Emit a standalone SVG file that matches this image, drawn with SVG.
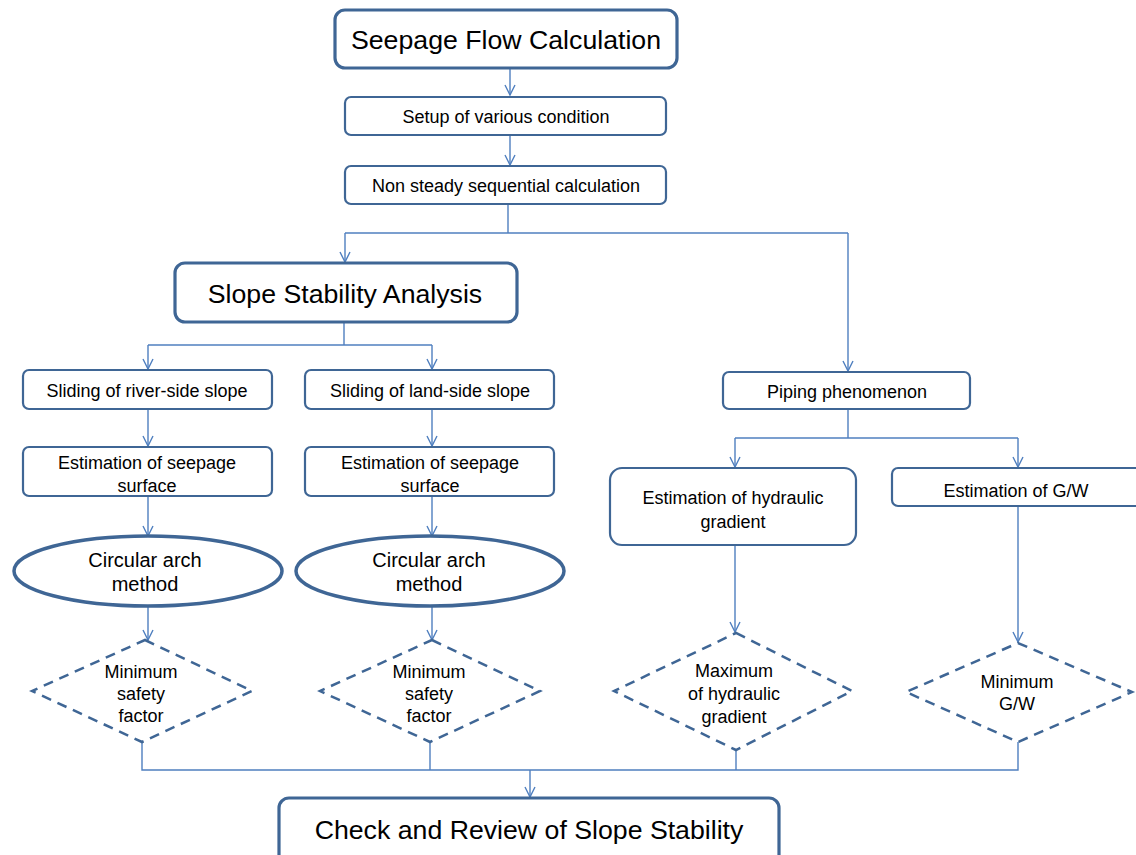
<svg xmlns="http://www.w3.org/2000/svg" width="1136" height="855" viewBox="0 0 1136 855">
<defs>
<style>
.box{fill:#fff;stroke:#3f6695;stroke-width:2.2}
.big{fill:#fff;stroke:#3f6695;stroke-width:3.2}
.ell{fill:#fff;stroke:#3f6695;stroke-width:3.5}
.dia{fill:none;stroke:#3f6695;stroke-width:2.5;stroke-dasharray:10 7}
.con{fill:none;stroke:#4f7fbf;stroke-width:1.4}
text{font-family:"Liberation Sans",Arial,sans-serif;fill:#000;text-anchor:middle}
.t1{font-size:26.7px}
.t2{font-size:18px}
.t3{font-size:20px}
</style>
<marker id="arr" viewBox="0 0 12 12" refX="11" refY="6" markerWidth="12" markerHeight="12" markerUnits="userSpaceOnUse" orient="auto">
<path d="M1,1 L11,6 L1,11" fill="none" stroke="#4f7fbf" stroke-width="1.4"/>
</marker>
</defs>
<rect width="1136" height="855" fill="#fff"/>
<g id="connectors" class="con">
<path d="M510,68 V95" marker-end="url(#arr)"/>
<path d="M510,135 V165" marker-end="url(#arr)"/>
<path d="M508,204 V233"/>
<path d="M345,233 H848"/>
<path d="M345,233 V262" marker-end="url(#arr)"/>
<path d="M848,233 V371" marker-end="url(#arr)"/>
<path d="M344,322 V345"/>
<path d="M148,345 H432"/>
<path d="M148,345 V369" marker-end="url(#arr)"/>
<path d="M432,345 V369" marker-end="url(#arr)"/>
<path d="M148,409 V446" marker-end="url(#arr)"/>
<path d="M432,409 V446" marker-end="url(#arr)"/>
<path d="M148,496 V536" marker-end="url(#arr)"/>
<path d="M432,496 V536" marker-end="url(#arr)"/>
<path d="M148,606 V640" marker-end="url(#arr)"/>
<path d="M432,606 V640" marker-end="url(#arr)"/>
<path d="M848,409 V438"/>
<path d="M735,438 H1018"/>
<path d="M735,438 V467" marker-end="url(#arr)"/>
<path d="M1018,438 V467" marker-end="url(#arr)"/>
<path d="M735,545 V632" marker-end="url(#arr)"/>
<path d="M1018,506 V642" marker-end="url(#arr)"/>
<path d="M142,742 V770 H1018 V742"/>
<path d="M430,742 V770"/>
<path d="M736,750 V770"/>
<path d="M530,770 V797" marker-end="url(#arr)"/>
</g>
<g id="n-seepage">
<rect class="big" x="335" y="10" width="342" height="58" rx="10"/>
<text class="t1" x="506" y="49">Seepage Flow Calculation</text>
</g>
<g id="n-setup">
<rect class="box" x="345" y="97" width="321" height="38" rx="6"/>
<text class="t2" x="506" y="123">Setup of various condition</text>
</g>
<g id="n-nonsteady">
<rect class="box" x="345" y="166" width="321" height="38" rx="6"/>
<text class="t2" x="506" y="192">Non steady sequential calculation</text>
</g>
<g id="n-slope">
<rect class="big" x="175" y="263" width="342" height="59" rx="10"/>
<text class="t1" x="345" y="303">Slope Stability Analysis</text>
</g>
<g id="n-river">
<rect class="box" x="23" y="370" width="249" height="39" rx="6"/>
<text class="t2" x="147" y="397">Sliding of river-side slope</text>
</g>
<g id="n-land">
<rect class="box" x="305" y="370" width="249" height="39" rx="6"/>
<text class="t2" x="430" y="397">Sliding of land-side slope</text>
</g>
<g id="n-est1">
<rect class="box" x="23" y="447" width="249" height="49" rx="6"/>
<text class="t2" x="147" y="469">Estimation of seepage</text>
<text class="t2" x="147" y="492">surface</text>
</g>
<g id="n-est2">
<rect class="box" x="305" y="447" width="249" height="49" rx="6"/>
<text class="t2" x="430" y="469">Estimation of seepage</text>
<text class="t2" x="430" y="492">surface</text>
</g>
<g id="n-circ1">
<ellipse class="ell" cx="148" cy="571" rx="134" ry="35"/>
<text class="t3" x="145" y="567">Circular arch</text>
<text class="t3" x="145" y="591">method</text>
</g>
<g id="n-circ2">
<ellipse class="ell" cx="430" cy="571" rx="134" ry="35"/>
<text class="t3" x="429" y="567">Circular arch</text>
<text class="t3" x="429" y="591">method</text>
</g>
<g id="n-min1">
<path class="dia" d="M145,640 L252,691 L142,742 L32,691 Z"/>
<text class="t2" x="141" y="678">Minimum</text>
<text class="t2" x="141" y="700">safety</text>
<text class="t2" x="141" y="722">factor</text>
</g>
<g id="n-min2">
<path class="dia" d="M432,640 L540,691 L430,742 L320,691 Z"/>
<text class="t2" x="429" y="678">Minimum</text>
<text class="t2" x="429" y="700">safety</text>
<text class="t2" x="429" y="722">factor</text>
</g>
<g id="n-piping">
<rect class="box" x="723" y="372" width="247" height="37" rx="6"/>
<text class="t2" x="847" y="398">Piping phenomenon</text>
</g>
<g id="n-hydraulic">
<rect class="box" x="610" y="468" width="246" height="77" rx="12"/>
<text class="t2" x="733" y="504">Estimation of hydraulic</text>
<text class="t2" x="733" y="528">gradient</text>
</g>
<g id="n-gw">
<rect class="box" x="892" y="468" width="252" height="38" rx="6"/>
<text class="t2" x="1016" y="497">Estimation of G/W</text>
</g>
<g id="n-maxhyd">
<path class="dia" d="M736,633 L852,691 L736,750 L614,691 Z"/>
<text class="t2" x="734" y="677">Maximum</text>
<text class="t2" x="734" y="700">of hydraulic</text>
<text class="t2" x="734" y="723">gradient</text>
</g>
<g id="n-mingw">
<path class="dia" d="M1018,643 L1132,692 L1018,742 L906,692 Z"/>
<text class="t2" x="1017" y="688">Minimum</text>
<text class="t2" x="1017" y="710">G/W</text>
</g>
<g id="n-check">
<rect class="big" x="279" y="798" width="500" height="80" rx="10"/>
<text class="t1" x="529" y="839">Check and Review of Slope Stability</text>
</g>
</svg>
